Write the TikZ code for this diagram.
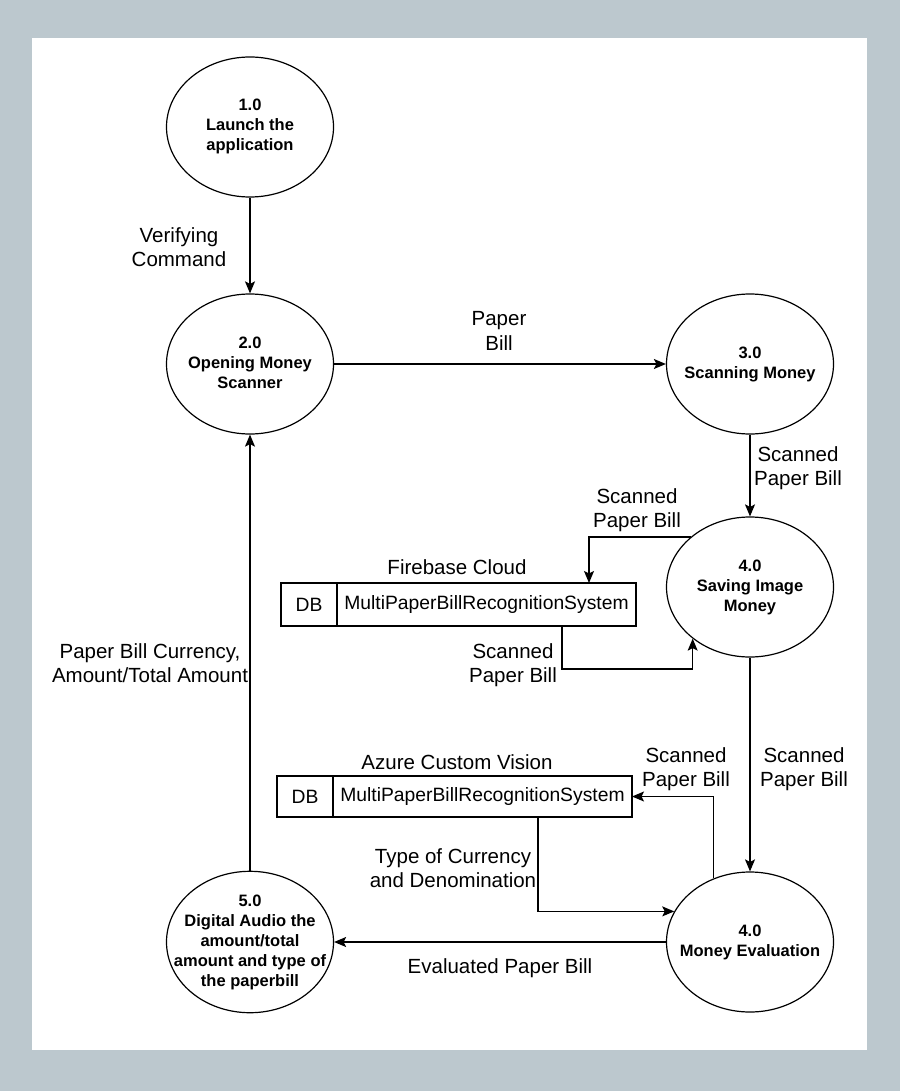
\documentclass[tikz,border=0pt]{standalone}
\usepackage{fontspec}
\setmainfont{Liberation Sans}
\usetikzlibrary{shapes.geometric,arrows.meta,positioning}
\definecolor{bggray}{RGB}{188,200,206}
\newcommand{\proctext}[1]{\makebox[0pt]{\raisebox{-2pt}{\begin{tabular}{@{}c@{}}#1\end{tabular}}}}
\begin{document}
\begin{tikzpicture}[x=1pt,y=-1pt,
    proc/.style={ellipse, draw, line width=1.2pt, minimum width=167pt, minimum height=140pt,
        inner sep=0pt, font=\fontsize{16.5}{20}\selectfont\bfseries},
    store/.style={draw, line width=1.2pt, inner sep=0pt, outer sep=0pt,
        font=\fontsize{19.3}{23}\selectfont},
    lbl/.style={align=center, inner sep=0pt, font=\fontsize{20.5}{24.5}\selectfont},
    flow/.style={line width=1.2pt, -{Stealth[length=12pt,width=10pt,inset=2.5pt]}}]
                % fondo
                \fill[bggray] (0,0) rectangle (900,1091);
                \fill[white] (32,38) rectangle (867,1050);
                % procesos
                \node[proc] (p1) at (250,127) {\proctext{1.0\\Launch the\\application}};
                \node[proc] (p2) at (250,364) {\proctext{2.0\\Opening Money\\Scanner}};
                \node[proc] (p3) at (750,364) {\proctext{3.0\\Scanning Money}};
                \node[proc] (p4) at (750,587) {\proctext{4.0\\Saving Image\\Money}};
                \node[proc] (p4b) at (750,942) {\proctext{4.0\\Money Evaluation}};
                \node[proc] (p5) at (250,942) {\proctext{5.0\\Digital Audio the\\amount/total\\amount and type of\\the paperbill}};
                % almacenes
                \node[store, minimum width=56pt, minimum height=43pt] (fbdb) at (309,604.5) {DB};
                \node[store, minimum width=299pt, minimum height=43pt, right=0pt of fbdb] (fbstore) {MultiPaperBillRecognitionSystem};
                \node[store, minimum width=56pt, minimum height=41pt] (azdb) at (305,796.5) {DB};
                \node[store, minimum width=299pt, minimum height=41pt, right=0pt of azdb] (azstore) {MultiPaperBillRecognitionSystem};
                \node[lbl] (fbname) at (457,567) {Firebase Cloud};
                \node[lbl] (azname) at (457,762) {Azure Custom Vision};
                % flujos
                \draw[flow] (p1) -- (p2);
                \node[lbl] (lverify) at (179,247) {Verifying\\Command};
                \draw[flow] (p2) -- (p3);
                \node[lbl] (lpaper) at (499,331) {Paper\\Bill};
                \draw[flow] (p3) -- (p4);
                \node[lbl] (lscan1) at (798,468) {Scanned\\Paper Bill};
                \draw[flow] (p4.140) -| ([xshift=-47pt]fbstore.north east);
                \node[lbl] (lscan2) at (637,510) {Scanned\\Paper Bill};
                \draw[flow] ([xshift=-74pt]fbstore.south east) -- ++(0,43) -| (p4.222);
                \node[lbl] (lscan3) at (513,665) {Scanned\\Paper Bill};
                \draw[flow] (p4) -- (p4b);
                \node[lbl] (lscan4) at (804,769) {Scanned\\Paper Bill};
                \draw[flow] (p4b.120) |- (azstore.east);
                \node[lbl] (lscan5) at (686,769) {Scanned\\Paper Bill};
                \draw[flow] ([xshift=-94pt]azstore.south east) |- (p4b.158);
                \node[lbl] (ltype) at (453,868) {Type of Currency\\and Denomination};
                \draw[flow] (p4b) -- (p5);
                \node[lbl] (leval) at (500,968) {Evaluated Paper Bill};
                \draw[flow] (p5) -- (p2);
                \node[lbl] (lamount) at (150,663) {Paper Bill Currency,\\Amount/Total Amount};
\end{tikzpicture}
\end{document}
